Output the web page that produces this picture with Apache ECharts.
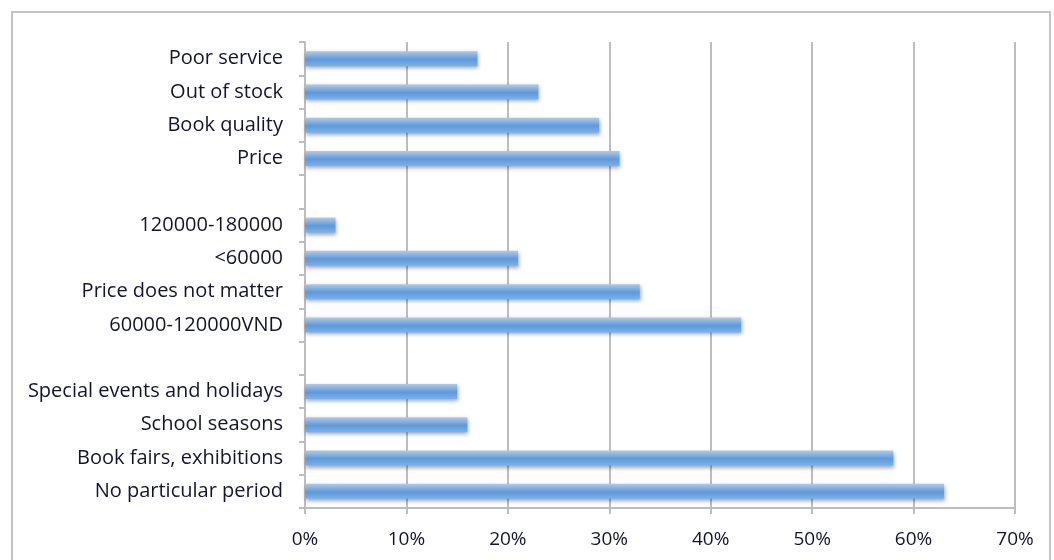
<!DOCTYPE html>
<html>
<head>
<meta charset="utf-8">
<script src="https://cdn.jsdelivr.net/npm/echarts@6/dist/echarts.min.js"></script>
<style>
  html, body { margin: 0; padding: 0; background: #fff; }
  #chart { width: 1054px; height: 560px; }
</style>
</head>
<body>
<div id="chart"></div>
<script>
// Categories listed bottom to top; blank entries separate the three question groups
const categories = [
  'No particular period',
  'Book fairs, exhibitions',
  'School seasons',
  'Special events and holidays',
  ' ',
  '60000-120000VND',
  'Price does not matter',
  '<60000',
  '120000-180000',
  '  ',
  'Price',
  'Book quality',
  'Out of stock',
  'Poor service'
];
// Share of respondents (%)
const shares = [63, 58, 16, 15, null, 43, 33, 21, 3, null, 31, 29, 23, 17];
const xTicks = [0, 10, 20, 30, 40, 50, 60, 70];

const chart = echarts.init(document.getElementById('chart'));
const textColor = '#141430';
const gridGrey = '#bdbdbd';

chart.setOption({
  animation: false,
  graphic: [{
    type: 'rect',
    shape: { x: 12, y: 12, width: 1038, height: 560 },
    style: { fill: 'none', stroke: '#c4c4c4', lineWidth: 2 }
  }],
  grid: { left: 305, right: 39, top: 42, bottom: 52 },
  xAxis: {
    type: 'value',
    min: xTicks[0],
    max: xTicks[xTicks.length - 1],
    interval: 10,
    axisLine: { show: true, lineStyle: { color: gridGrey, width: 2 } },
    axisTick: { show: true, length: 6, lineStyle: { color: gridGrey, width: 2 } },
    splitLine: { show: true, lineStyle: { color: gridGrey, width: 2 } },
    axisLabel: {
      formatter: v => v + '%',
      color: textColor,
      fontFamily: 'Open Sans',
      fontSize: 19,
      margin: 22
    }
  },
  yAxis: {
    type: 'category',
    data: categories,
    axisLine: { show: true, lineStyle: { color: gridGrey, width: 2 } },
    axisTick: { show: true, length: 6, interval: 0, lineStyle: { color: gridGrey, width: 2 } },
    axisLabel: {
      interval: 0,
      color: textColor,
      fontFamily: 'Open Sans',
      fontSize: 20,
      margin: 22,
      padding: [6, 0, 0, 0]
    },
    splitLine: { show: false }
  },
  series: [{
    type: 'bar',
    data: shares,
    barWidth: 15,
    itemStyle: {
      color: new echarts.graphic.LinearGradient(0, 0, 0, 1, [
        { offset: 0, color: '#a9cbf1' },
        { offset: 0.55, color: '#5d9ad9' },
        { offset: 1, color: '#7fb0e6' }
      ]),
      shadowColor: 'rgba(0,0,0,0.35)',
      shadowBlur: 4,
      shadowOffsetX: 1,
      shadowOffsetY: 2
    }
  }]
});
</script>
</body>
</html>
